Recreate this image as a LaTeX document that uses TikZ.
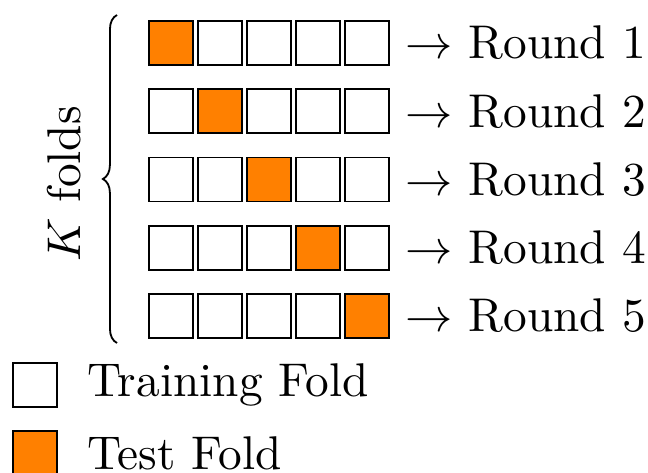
\documentclass[tikz,border=0pt]{standalone}
\usetikzlibrary{decorations.pathreplacing}
\definecolor{foldorange}{RGB}{255,128,0}
\begin{document}
\begin{tikzpicture}[x=0.21978pt,y=-0.21978pt,
  fold/.style={draw=black,line width=0.4pt,minimum size=9.7pt,inner sep=0pt,outer sep=0pt},
  trainfold/.style={fold,fill=white},
  testfold/.style={fold,fill=foldorange},
  lbl/.style={inner sep=0pt,scale=1.04}]
\useasboundingbox (0,0) rectangle (648,473);
\foreach \i in {1,...,5} {
  \foreach \j in {1,...,5} {
    \ifnum\i=\j\def\st{testfold}\else\def\st{trainfold}\fi
    \node[\st] (r\i c\j) at ({171.3+49*(\j-1)},{43+68.25*(\i-1)}) {};
  }
  \node[lbl,anchor=west] (t\i) at ([xshift=3.4pt]r\i c5.east) {$\rightarrow$ Round \i};
}
\coordinate (bt) at (117,15);
\coordinate (bb) at (117,343);
\draw[line width=0.4pt,decorate,decoration={brace,amplitude=3.1pt}] (bb) -- (bt);
\node[lbl,rotate=90,anchor=base] (k) at (80.5,184) {$K$ folds};
\node[trainfold] (lt) at (35,384.7) {};
\node[lbl,anchor=west] (ltt) at ([xshift=6.5pt]lt.east) {Training Fold};
\node[testfold] (ls) at (35,453) {};
\node[lbl,anchor=west] (lst) at ([xshift=6.5pt]ls.east) {Test Fold};
\end{tikzpicture}
\end{document}
